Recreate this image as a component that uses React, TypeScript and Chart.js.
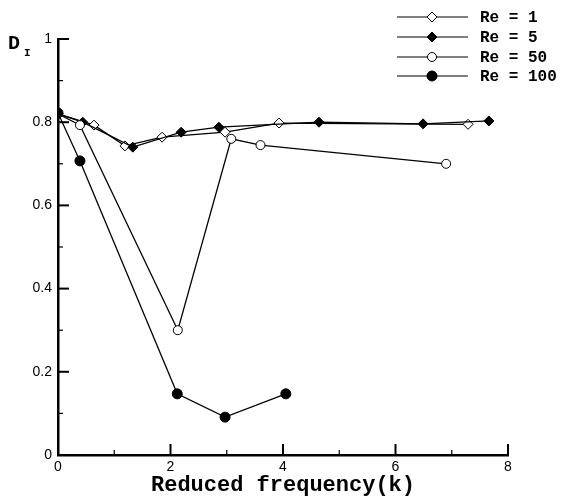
import React, { useEffect, useRef } from "react";
import { Chart, registerables } from "chart.js";

Chart.register(...registerables);

const re1X = [0, 0.64, 1.19, 1.85, 2.97, 3.93, 7.29];
const re1Y = [0.82, 0.793, 0.743, 0.764, 0.776, 0.798, 0.795];
const re5X = [0, 0.44, 1.33, 2.19, 2.86, 4.64, 6.49, 7.66];
const re5Y = [0.82, 0.8, 0.74, 0.776, 0.788, 0.8, 0.796, 0.803];
const re50X = [0, 0.39, 2.13, 3.08, 3.6, 6.9];
const re50Y = [0.82, 0.793, 0.3, 0.76, 0.745, 0.7];
const re100X = [0, 0.39, 2.12, 2.97, 4.05];
const re100Y = [0.822, 0.707, 0.147, 0.091, 0.147];

const legendLabels = ["Re = 1", "Re = 5", "Re = 50", "Re = 100"];
const xMajorTicks = [0, 2, 4, 6, 8];
const xMinorTicks = [1, 3, 5, 7];
const yMajorTicks = [0, 0.2, 0.4, 0.6, 0.8, 1];
const yMinorTicks = [0.1, 0.3, 0.5, 0.7, 0.9];

const toPts = (xs: number[], ys: number[]) => xs.map((x, i) => ({ x, y: ys[i] }));

const styles = [
  { pointStyle: "rectRot", fill: "#fff", radius: 5 },
  { pointStyle: "rectRot", fill: "#000", radius: 5 },
  { pointStyle: "circle", fill: "#fff", radius: 4.5 },
  { pointStyle: "circle", fill: "#000", radius: 5 },
];

const decorPlugin = {
  id: "decor",
  afterDraw(chart: any) {
    const ctx = chart.ctx;
    const xs = chart.scales.x;
    const ys = chart.scales.y;
    const ca = chart.chartArea;
    ctx.save();
    ctx.strokeStyle = "#000";
    ctx.lineWidth = 2;
    const tickX = (v: number, len: number) => {
      const px = xs.getPixelForValue(v);
      ctx.beginPath();
      ctx.moveTo(px, ca.bottom);
      ctx.lineTo(px, ca.bottom - len);
      ctx.stroke();
    };
    const tickY = (v: number, len: number) => {
      const py = ys.getPixelForValue(v);
      ctx.beginPath();
      ctx.moveTo(ca.left, py);
      ctx.lineTo(ca.left + len, py);
      ctx.stroke();
    };
    xMajorTicks.forEach((v) => tickX(v, 11));
    ctx.lineWidth = 1.2;
    xMinorTicks.forEach((v) => tickX(v, 5));
    ctx.lineWidth = 2;
    yMajorTicks.forEach((v) => tickY(v, 11));
    ctx.lineWidth = 1.2;
    yMinorTicks.forEach((v) => tickY(v, 5));

    // y label D_I
    ctx.fillStyle = "#000";
    ctx.textBaseline = "alphabetic";
    ctx.textAlign = "left";
    ctx.font = "bold 20px 'Liberation Mono'";
    ctx.fillText("D", 8, 49);
    ctx.font = "bold 11px 'Liberation Mono'";
    ctx.fillText("I", 24, 56);

    // legend
    const rows = [17, 37, 57, 76];
    rows.forEach((ry, i) => {
      const st = styles[i];
      ctx.strokeStyle = "#000";
      ctx.lineWidth = 1.2;
      ctx.beginPath();
      ctx.moveTo(397, ry);
      ctx.lineTo(468, ry);
      ctx.stroke();
      ctx.fillStyle = st.fill;
      ctx.beginPath();
      if (st.pointStyle === "circle") {
        ctx.arc(432, ry, st.radius, 0, Math.PI * 2);
      } else {
        ctx.moveTo(432, ry - st.radius);
        ctx.lineTo(432 + st.radius, ry);
        ctx.lineTo(432, ry + st.radius);
        ctx.lineTo(432 - st.radius, ry);
        ctx.closePath();
      }
      ctx.fill();
      ctx.lineWidth = 1;
      ctx.stroke();
      ctx.fillStyle = "#000";
      ctx.font = "bold 16px 'Liberation Mono'";
      ctx.textBaseline = "middle";
      ctx.fillText(legendLabels[i], 480, ry + 1);
    });
    ctx.restore();
  },
};

export default function App() {
  const ref = useRef<HTMLCanvasElement | null>(null);
  useEffect(() => {
    if (!ref.current) return;
    const series = [
      { label: legendLabels[0], data: toPts(re1X, re1Y), order: 4 },
      { label: legendLabels[1], data: toPts(re5X, re5Y), order: 3 },
      { label: legendLabels[2], data: toPts(re50X, re50Y), order: 2 },
      { label: legendLabels[3], data: toPts(re100X, re100Y), order: 1 },
    ];
    const chart = new Chart(ref.current, {
      type: "line",
      data: {
        datasets: series.map((s, i) => ({
          ...s,
          borderColor: "#000",
          borderWidth: 1.3,
          pointStyle: styles[i].pointStyle as any,
          pointRadius: styles[i].radius,
          pointBackgroundColor: styles[i].fill,
          pointBorderColor: "#000",
          pointBorderWidth: 1,
          tension: 0,
          fill: false,
        })),
      },
      plugins: [decorPlugin],
      options: {
        animation: false,
        responsive: false,
        maintainAspectRatio: false,
        layout: { padding: { top: 39, right: 53, left: 0, bottom: 0 } },
        plugins: { legend: { display: false }, tooltip: { enabled: false } },
        scales: {
          x: {
            type: "linear",
            min: 0,
            max: 8,
            afterFit: (s: any) => {
              s.height = 42;
            },
            afterBuildTicks: (s: any) => {
              s.ticks = xMajorTicks.map((v) => ({ value: v }));
            },
            grid: { display: false, drawTicks: false },
            border: { display: true, color: "#000", width: 2.5 },
            ticks: {
              color: "#000",
              padding: 4,
              font: { family: "'Liberation Sans'", size: 14 },
              callback: (v: any) => String(v),
            },
            title: {
              display: true,
              text: "Reduced frequency(k)",
              color: "#000",
              font: { family: "'Liberation Mono'", size: 22, weight: "bold" },
              padding: { top: 0, bottom: -2 },
            },
          },
          y: {
            type: "linear",
            min: 0,
            max: 1,
            afterFit: (s: any) => {
              s.width = 58;
            },
            afterBuildTicks: (s: any) => {
              s.ticks = yMajorTicks.map((v) => ({ value: v }));
            },
            grid: { display: false, drawTicks: false },
            border: { display: true, color: "#000", width: 2.5 },
            ticks: {
              color: "#000",
              padding: 6,
              font: { family: "'Liberation Sans'", size: 14 },
              callback: (v: any) => String(Math.round(Number(v) * 10) / 10),
            },
          },
        },
      },
    } as any);
    return () => chart.destroy();
  }, []);
  return (
    <div style={{ position: "absolute", left: 0, top: 0, width: 561, height: 497, background: "#fff" }}>
      <canvas ref={ref} width={561} height={497} style={{ display: "block" }} />
    </div>
  );
}
